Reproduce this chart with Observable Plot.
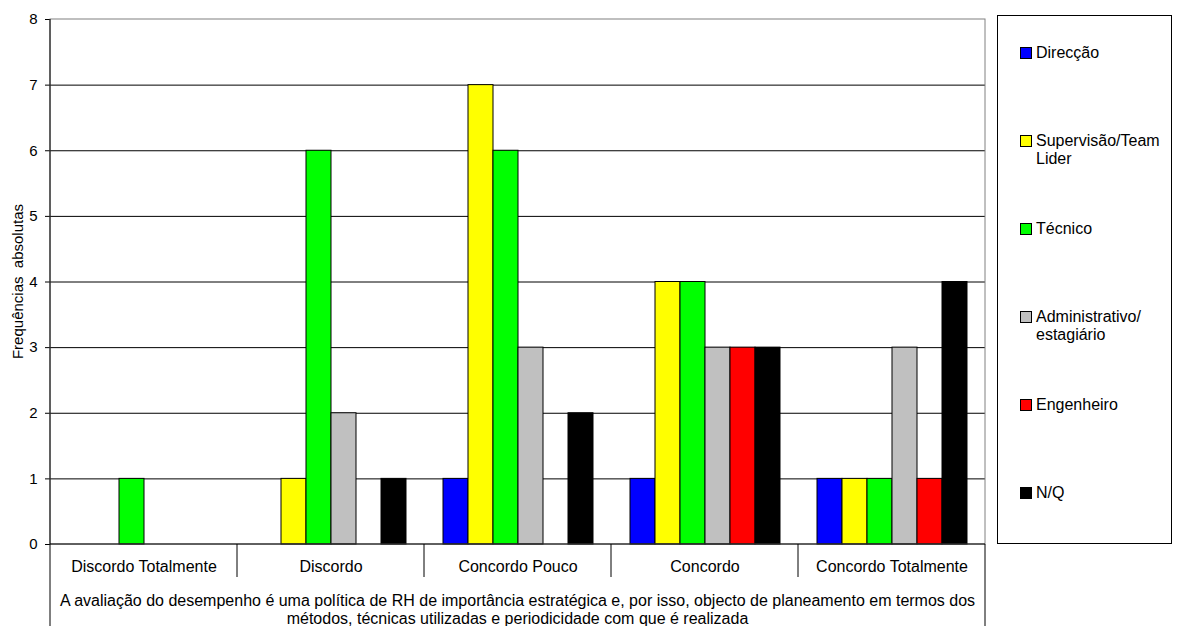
<!DOCTYPE html>
<html>
<head>
<meta charset="utf-8">
<script src="https://cdn.jsdelivr.net/npm/d3@7"></script>
<script src="https://cdn.jsdelivr.net/npm/@observablehq/plot@0.6"></script>
<style>
  body { margin: 0; background: #fff; font-family: "Liberation Sans", Arial, sans-serif; }
  #wrap { position: relative; width: 1181px; height: 626px; overflow: hidden; }
  #legend { position: absolute; left: 997px; top: 15px; width: 175px; height: 529px;
            border: 1px solid #000; box-sizing: border-box; background: #fff; }
  .item { position: absolute; left: 22px; display: flex; align-items: flex-start;
          font-size: 16px; line-height: 18px; color: #000; }
  .sw { width: 10px; height: 10px; border: 1px solid #000; margin-top: 3px; margin-right: 4px; flex: none; }
  .lbl { width: 134px; }
</style>
</head>
<body>
<div id="wrap"></div>
<script>
// Response categories (x groups) and respondent groups (series)
const categories = ["Discordo Totalmente", "Discordo", "Concordo Pouco", "Concordo", "Concordo Totalmente"];
const series = ["Direcção", "Supervisão/Team Lider", "Técnico", "Administrativo/ estagiário", "Engenheiro", "N/Q"];
const seriesColors = ["#0000ff", "#ffff00", "#00ff00", "#c0c0c0", "#ff0000", "#000000"];

// Absolute frequencies per series, in category order
const direccao       = [0, 0, 1, 1, 1];
const supervisao     = [0, 1, 7, 4, 1];
const tecnico        = [1, 6, 6, 4, 1];
const administrativo = [0, 2, 3, 3, 3];
const engenheiro     = [0, 0, 0, 3, 1];
const nq             = [0, 1, 2, 3, 4];

const yTicks = [0, 1, 2, 3, 4, 5, 6, 7, 8];
const yTitle = "Frequências  absolutas";
const captionLines = [
  "A avaliação do desempenho é uma política de RH de importância estratégica e, por isso, objecto de planeamento em termos dos",
  "métodos, técnicas utilizadas e periodicidade com que é realizada"
];

const valuesBySeries = [direccao, supervisao, tecnico, administrativo, engenheiro, nq];
const rows = [];
series.forEach((s, i) => categories.forEach((c, j) => rows.push({category: c, series: s, value: valuesBySeries[i][j]})));

const font = "'Liberation Sans', Arial, sans-serif";

const plot = Plot.plot({
  width: 1181,
  height: 626,
  marginLeft: 50,
  marginRight: 196,
  marginTop: 19,
  marginBottom: 82,
  style: {fontFamily: font, fontSize: "16px", color: "#000", background: "transparent"},
  fx: {domain: categories, padding: 0, label: null, axis: "bottom", tickSize: 0, tickPadding: 16},
  x: {domain: series, paddingInner: 0, paddingOuter: 0.74, axis: null},
  y: {domain: [0, 8], ticks: yTicks, tickSize: 5, tickPadding: 8, label: null},
  color: {domain: series, range: seriesColors},
  marks: [
    Plot.ruleY(yTicks.slice(1, -1), {stroke: "#000", strokeWidth: 1}),
    Plot.barY(rows.filter(d => d.value > 0), {
      fx: "category", x: "series", y: "value",
      fill: "series", stroke: "#000", strokeWidth: 1
    })
  ]
});

// Plot-area frame, axis lines, category separators, titles
const fx = plot.scale("fx");
const ys = plot.scale("y");
const [xL, xR] = fx.range;
const [yB, yT] = ys.range;
const H = 626;
const svg = d3.select(plot);
svg.selectAll('[aria-label="y-axis tick label"]').attr("font-size", 15);
const g = svg.append("g").attr("fill", "none");

g.append("rect").attr("x", xL).attr("y", yT).attr("width", xR - xL).attr("height", yB - yT)
  .attr("stroke", "#808080").attr("stroke-width", 1);
g.append("line").attr("x1", xL).attr("x2", xR).attr("y1", yB).attr("y2", yB).attr("stroke", "#000");
g.append("line").attr("x1", xL).attr("x2", xL).attr("y1", yT).attr("y2", H).attr("stroke", "#000");
g.append("line").attr("x1", xR).attr("x2", xR).attr("y1", yB).attr("y2", H).attr("stroke", "#000");
for (let i = 1; i < categories.length; i++) {
  const xe = xL + i * fx.step;
  g.append("line").attr("x1", xe).attr("x2", xe).attr("y1", yB).attr("y2", yB + 33).attr("stroke", "#000");
}

svg.append("text")
  .attr("transform", `translate(17,${(yT + yB) / 2}) rotate(-90)`)
  .attr("text-anchor", "middle").attr("dominant-baseline", "central")
  .attr("font-family", font).attr("font-size", 15).attr("fill", "#000")
  .text(yTitle);

const cap = svg.append("text")
  .attr("text-anchor", "middle").attr("font-family", font).attr("font-size", 16).attr("fill", "#000");
captionLines.forEach((t, i) => {
  cap.append("tspan").attr("x", (xL + xR) / 2).attr("y", 606 + i * 18).text(t);
});

const wrap = document.getElementById("wrap");
wrap.appendChild(plot);

// Legend box on the right
const colorScale = plot.scale("color");
const legend = document.createElement("div");
legend.id = "legend";
colorScale.domain.forEach((s, i) => {
  const item = document.createElement("div");
  item.className = "item";
  item.style.top = (28 + 88 * i) + "px";
  const sw = document.createElement("div");
  sw.className = "sw";
  sw.style.background = colorScale.range[i];
  const lbl = document.createElement("div");
  lbl.className = "lbl";
  lbl.textContent = s;
  item.appendChild(sw);
  item.appendChild(lbl);
  legend.appendChild(item);
});
wrap.appendChild(legend);
</script>
</body>
</html>
